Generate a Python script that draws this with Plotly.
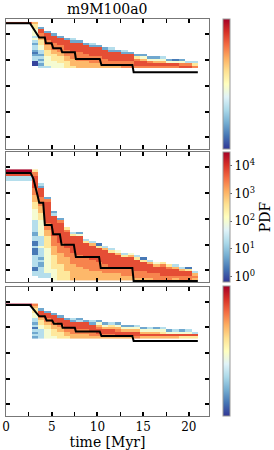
import numpy as np
import plotly.graph_objects as go
from plotly.subplots import make_subplots
from plotly.colors import diverging

# ---------------- data ----------------
T_EDGES = [0.0, 0.7, 1.4, 2.1, 2.8, 3.5, 4.2, 4.9, 5.6, 6.3, 7.0, 7.7, 8.4, 9.1, 9.8,
           10.5, 11.2, 11.9, 12.6, 13.3, 14.0, 14.7, 15.4, 16.1, 16.8, 17.5, 18.2,
           18.9, 19.6, 20.3, 21.0]
Y_BIN = 0.09
Y_TOP = [4.43, 3.87, 3.88]          # centre of top histogram row in each panel
# log10(PDF) for each level digit used in the column strings below
LEVELS = [-0.1, 0.3, 0.7, 1.3, 2.0, 2.5, 3.0, 3.4, 3.8, 4.5]
# each time column: (index of first row from top, level digit per row going down)
P1_COLS = [(0, "8"), (0, "8"), (0, "8"), (0, "8"),
           (0, "6554443432332123300"),
           (2, "288776554433232323"),
           (4, "2888776655544443"),
           (5, "288877766555444"),
           (6, "28887776655544"),
           (7, "2888877766555"),
           (7, "3288887776665"),
           (8, "288887777666"),
           (9, "28888777666"),
           (9, "32888877766"),
           (10, "2888877766"),
           (11, "288887776"),
           (11, "328888776"),
           (12, "28888776"),
           (12, "32888777"),
           (13, "2888777"),
           (14, "257887"),
           (14, "246887"),
           (15, "24787"),
           (15, "24687"),
           (15, "34687"),
           (16, "2487"),
           (16, "1487"),
           (16, "2478"),
           (17, "378"),
           (17, "357")]
P2_COLS = [(0, "98833"), (0, "98833"), (0, "98833"), (0, "98833"),
           (0, "57788888" "77766655" "54444433" "33322331" "13111333" "331133"),
           (6, "32888877" "77666555" "44444443" "33343333" "23223333" "3"),
           (12, "27888888" "88877766" "65555544" "44444444" "433"),
           (18, "23888888" "88877776" "66655555" "544444"),
           (21, "27888888" "88877776" "66665555" "555"),
           (25, "57888888" "87777666" "6665555"),
           (27, "35" "8888888" "77777" "6666666"),
           (27, "24" "88888888" "77777" "666666"),
           (30, "35" "888888" "77777" "66666"),
           (31, "36" "888888" "77777" "6666"),
           (32, "15" "888888" "7777" "6666"),
           (33, "36" "888888" "7777" "666"),
           (34, "35" "888888" "777" "666"),
           (35, "46" "88888" "777" "666"),
           (36, "35" "88888" "777" "66"),
           (36, "46" "88888" "777" "66"),
           (37, "35" "88888" "777" "6"),
           (38, "15" "8888" "777" "6"),
           (39, "36" "8888" "77" "6"),
           (40, "46" "888" "77" "7"),
           (40, "57" "8888" "77"),
           (41, "57" "888" "77"),
           (41, "36" "888" "7" "6"),
           (42, "36" "88" "77"),
           (42, "15" "88" "77"),
           (44, "3676")]
P3_COLS = [(0, "9"), (0, "9"), (0, "9"), (0, "9"),
           (0, "765544332313232"),
           (2, "2887655443333"),
           (3, "288776554444"),
           (4, "28887665554"),
           (5, "2888766555"),
           (6, "288877665"),
           (6, "328887766"),
           (6, "238887766"),
           (7, "28887766"),
           (7, "32888776"),
           (7, "24678876"),
           (8, "2468876"),
           (8, "3568876"),
           (8, "2467886"),
           (9, "246886"),
           (9, "246886"),
           (9, "346887"),
           (10, "24686"),
           (10, "34686"),
           (10, "24686"),
           (10, "34586"),
           (11, "2486"),
           (11, "3486"),
           (11, "2485"),
           (11, "3485"),
           (12, "385")]

P1_LINE_T = [0, 2.62, 3.63, 4.25, 4.36, 4.99, 5.16, 6.0, 6.14, 7.53, 7.64, 10.25, 10.44, 13.82, 13.96, 20.98]
P1_LINE_Y = [4.43, 4.43, 3.87, 3.87, 3.65, 3.65, 3.46, 3.46, 3.30, 3.30, 3.04, 3.04, 2.81, 2.81, 2.53, 2.53]
P2_LINE_T = [0, 2.69, 3.0, 3.27, 3.45, 3.63, 4.07, 4.25, 4.99, 5.16, 5.89, 6.08, 7.42, 7.64, 10.18, 10.36, 13.82, 13.96, 20.98]
P2_LINE_Y = [3.78, 3.78, 3.55, 3.20, 2.90, 2.62, 2.62, 1.76, 1.76, 1.40, 1.40, 0.99, 0.99, 0.52, 0.52, 0.09, 0.09, -0.41, -0.41]
P3_LINE_T = [0, 2.62, 3.63, 4.25, 4.44, 5.05, 5.24, 6.08, 6.19, 7.53, 7.64, 10.25, 10.44, 13.82, 13.96, 20.98]
P3_LINE_Y = [3.87, 3.87, 3.43, 3.43, 3.27, 3.27, 3.14, 3.14, 2.98, 2.98, 2.84, 2.84, 2.66, 2.66, 2.47, 2.47]

CB_TICKS = [0, 1, 2, 3, 4]
CB_LABELS = ["10<sup>0</sup>", "10<sup>1</sup>", "10<sup>2</sup>", "10<sup>3</sup>", "10<sup>4</sup>"]
X_TICKS = [0, 5, 10, 15, 20]
X_MINOR = [2.5, 7.5, 12.5, 17.5]
Y_TICKS = [0, 1, 2, 3, 4]
TITLE = "m9M100a0"

# ---------------- build ----------------
FONT = "DejaVu Serif"
edges = np.array(T_EDGES)
tc = (edges[:-1] + edges[1:]) / 2


def build(cols, ytop):
    nk = max(k0 + len(s) for k0, s in cols)
    z = np.full((nk, len(cols)), np.nan)
    for j, (k0, s) in enumerate(cols):
        for i, ch in enumerate(s):
            if ch != ".":
                z[k0 + i, j] = LEVELS[int(ch)]
    yc = np.array([ytop - Y_BIN * k for k in range(nk)])
    return yc[::-1], z[::-1, :]


cs_cols = diverging.RdYlBu[::-1]
n = len(cs_cols)
colorscale = [[i / (n - 1), c] for i, c in enumerate(cs_cols)]

fig = make_subplots(rows=3, cols=1)
panels = [(P1_COLS, P1_LINE_T, P1_LINE_Y), (P2_COLS, P2_LINE_T, P2_LINE_Y), (P3_COLS, P3_LINE_T, P3_LINE_Y)]
caxes = ["coloraxis", "coloraxis2", "coloraxis3"]
for p, (cols, lt, ly) in enumerate(panels):
    yc, z = build(cols, Y_TOP[p])
    fig.add_trace(go.Heatmap(x=tc, y=yc, z=z, coloraxis=caxes[p], hoverinfo="skip"), row=p + 1, col=1)
    fig.add_trace(go.Scatter(x=lt, y=ly, mode="lines", line=dict(color="black", width=2),
                             hoverinfo="skip", showlegend=False), row=p + 1, col=1)

W, H = 274, 450
L, R, T, B = 6, 65, 19, 34
ph = H - T - B
dom = [[(416 - 149) / ph, 1.0], [(416 - 282) / ph, (416 - 152) / ph], [0.0, (416 - 286.5) / ph]]

axis_common = dict(showline=True, linecolor="#777", linewidth=1, mirror="allticks",
                   ticks="inside", tickcolor="black", tickwidth=2, ticklen=4,
                   showgrid=False, zeroline=False, automargin=False)
for p in range(3):
    xa = "xaxis" if p == 0 else f"xaxis{p + 1}"
    ya = "yaxis" if p == 0 else f"yaxis{p + 1}"
    fig.layout[xa].update(range=[0, 22.2], tickvals=X_TICKS, showticklabels=(p == 2), domain=[0, 1],
                          minor=dict(tickvals=X_MINOR, ticks="inside", ticklen=4, tickwidth=1, tickcolor="black"),
                          tickfont=dict(family=FONT, size=12, color="black"), **axis_common)
    fig.layout[ya].update(range=[-0.45, 4.59], tickvals=Y_TICKS, showticklabels=False,
                          domain=dom[p], **axis_common)
    cb = dict(x=(222.7 - L) / (W - L - R), xanchor="left", xpad=0, ypad=0, thickness=7,
              thicknessmode="pixels", lenmode="fraction", len=dom[p][1] - dom[p][0],
              y=(dom[p][0] + dom[p][1]) / 2, yanchor="middle", outlinewidth=1, outlinecolor="#999")
    if p == 1:
        cb.update(tickvals=CB_TICKS, ticktext=CB_LABELS, ticks="outside", ticklen=2, tickcolor="#666",
                  tickfont=dict(family=FONT, size=12, color="black"),
                  title=dict(text="PDF", side="right", font=dict(family=FONT, size=14, color="black")))
    else:
        cb.update(showticklabels=False, ticks="")
    fig.layout[caxes[p]] = dict(colorscale=colorscale, cmin=-0.2, cmax=4.5, colorbar=cb)

fig.update_xaxes(title=dict(text="time [Myr]", font=dict(family=FONT, size=14, color="black"), standoff=2),
                 row=3, col=1)
fig.add_annotation(text=TITLE, x=0.5, y=1, xref="paper", yref="paper", xanchor="center",
                   yanchor="bottom", yshift=0, showarrow=False,
                   font=dict(family=FONT, size=14, color="black"))

fig.update_layout(width=W, height=H, margin=dict(l=L, r=R, t=T, b=B, autoexpand=False),
                  paper_bgcolor="white", plot_bgcolor="white", showlegend=False,
                  font=dict(family=FONT, color="black"))
fig.write_html("out.html", config={"displayModeBar": False, "staticPlot": True},
               post_script="document.body.style.margin='0px';")
